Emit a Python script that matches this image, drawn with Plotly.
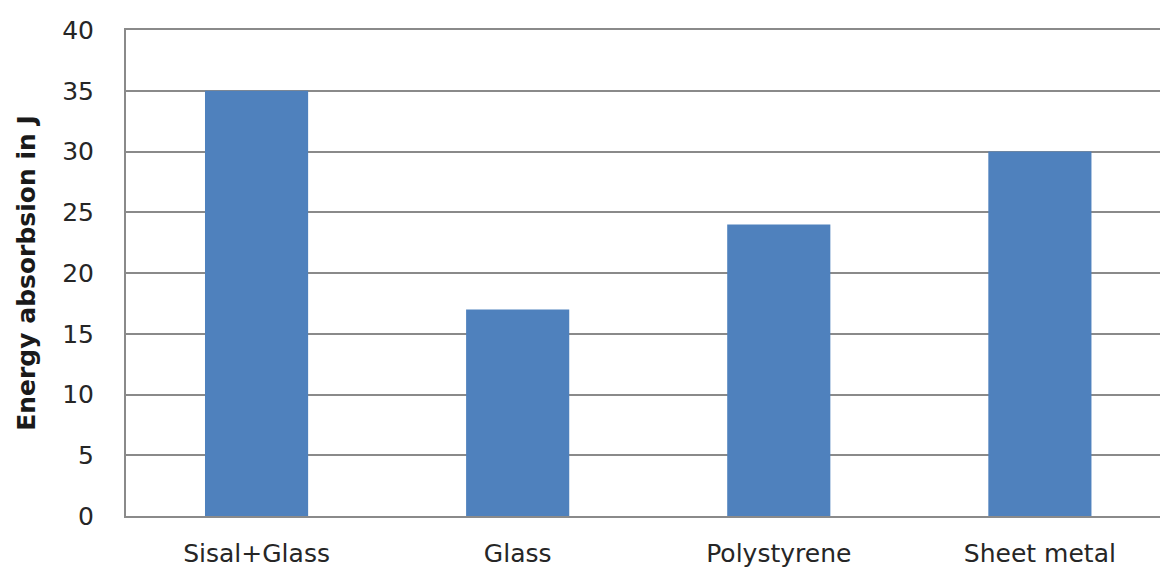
import plotly.graph_objects as go

categories = ["Sisal+Glass", "Glass", "Polystyrene", "Sheet metal"]
values = [35, 17, 24, 30]
y_ticks = [0, 5, 10, 15, 20, 25, 30, 35, 40]

fig = go.Figure()
fig.add_trace(go.Bar(
    x=categories, y=values,
    marker=dict(color="#4F81BD", line=dict(width=0)),
    width=0.395,
))

fig.update_layout(
    width=1160, height=579,
    margin=dict(l=126, r=0, t=30, b=63),
    paper_bgcolor="white", plot_bgcolor="white",
    showlegend=False,
    font=dict(family="DejaVu Sans, Open Sans, sans-serif", color="#262626", size=25),
    xaxis=dict(
        type="category",
        range=[-0.5, 3.46],
        showgrid=False,
        showline=True, linecolor="#8a8a8a", linewidth=2, mirror=True,
        ticks="", tickfont=dict(size=25, color="#262626"),
        ticklabelstandoff=14,
    ),
    yaxis=dict(
        range=[0, 40],
        tickvals=y_ticks,
        showgrid=True, gridcolor="#8a8a8a", gridwidth=2,
        showline=True, linecolor="#8a8a8a", linewidth=2,
        zeroline=False,
        ticks="",
        tickfont=dict(size=25, color="#262626"),
        ticklabelstandoff=25,
        title=dict(text="<b>Energy absorbsion in J</b>",
                   font=dict(family="DejaVu Sans, sans-serif", size=25, color="#1a1a1a"),
                   standoff=19),
    ),
)

fig.write_html("out.html")
